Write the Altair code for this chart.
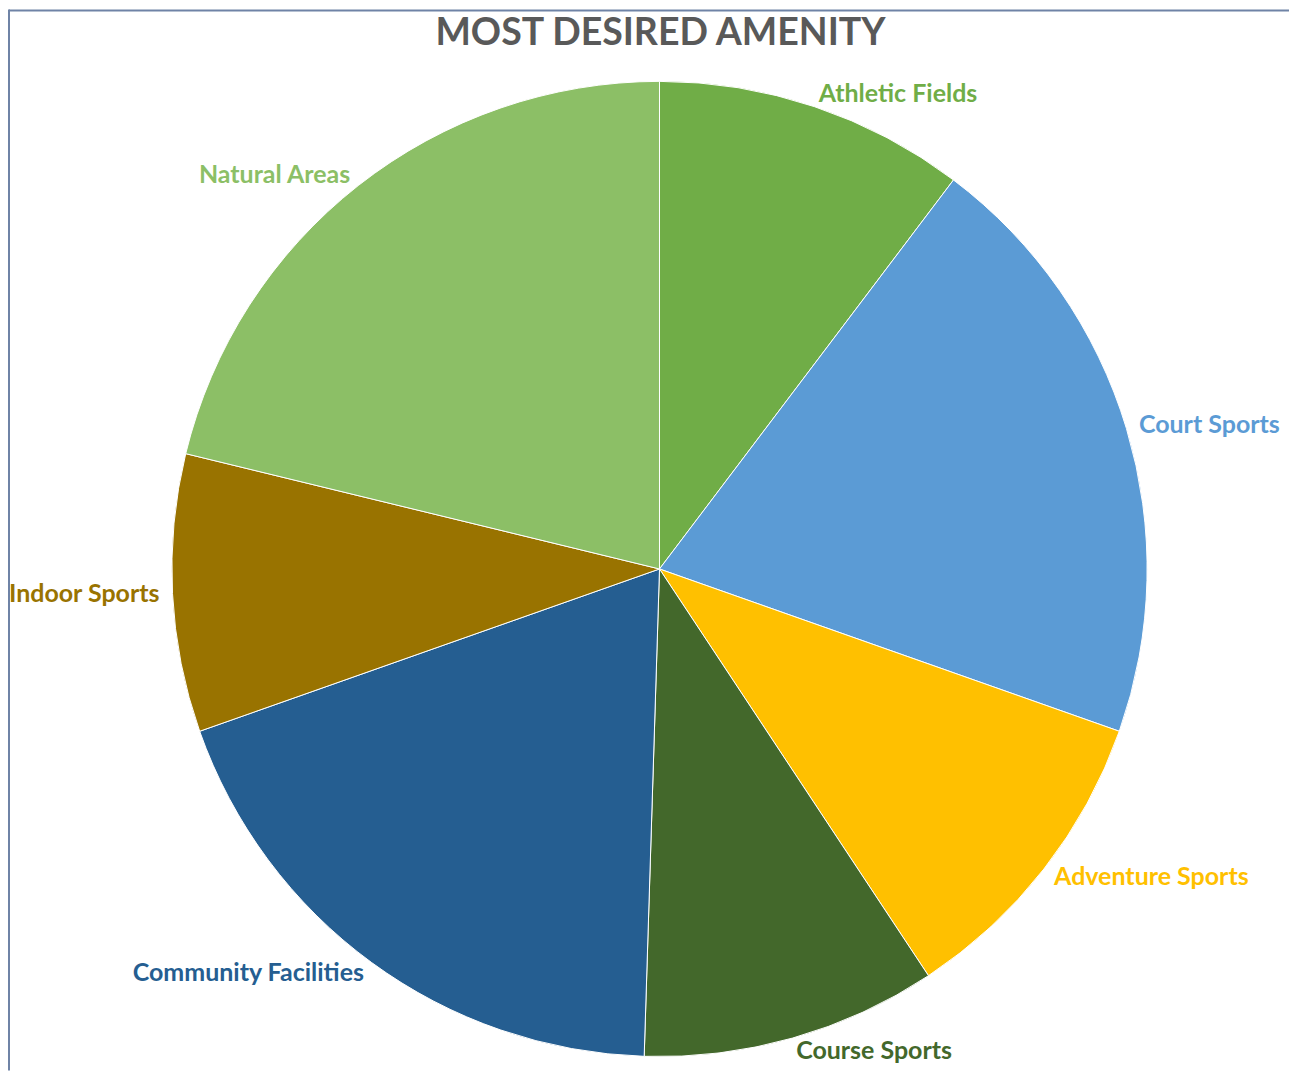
import altair as alt
import pandas as pd

title_text = "MOST DESIRED AMENITY"
categories = ["Athletic Fields", "Court Sports", "Adventure Sports", "Course Sports",
              "Community Facilities", "Indoor Sports", "Natural Areas"]
shares = [10.3, 20.1, 10.3, 9.8, 19.1, 9.2, 21.2]
colors = ["#70AD47", "#5B9BD5", "#FFC000", "#43682B", "#255E91", "#997300", "#8CBF66"]

df = pd.DataFrame({"category": categories, "share": shares, "idx": list(range(len(categories)))})

CX, CY = 652, 560
R = 488

color_scale = alt.Scale(domain=categories, range=colors)

base = alt.Chart(df)

arcs = base.mark_arc(outerRadius=R, stroke="white", strokeWidth=1).encode(
    theta=alt.Theta("share:Q", stack=True),
    order=alt.Order("idx:Q"),
    color=alt.Color("category:N", scale=color_scale, legend=None),
    x=alt.value(CX),
    y=alt.value(CY),
)

labels = base.transform_window(
    cum="sum(share)", sort=[alt.SortField("idx")]
).transform_calculate(
    mid="datum.cum - datum.share / 2"
).mark_text(
    radius=501,
    font="Lato",
    fontSize=25,
    fontWeight="bold",
    baseline="middle",
    align=alt.expr("datum.mid < 50 ? 'left' : 'right'"),
).encode(
    theta=alt.Theta("share:Q", stack=True),
    order=alt.Order("idx:Q"),
    text="category:N",
    color=alt.Color("category:N", scale=color_scale, legend=None),
    x=alt.value(CX),
    y=alt.value(CY),
)

one = pd.DataFrame({"t": [title_text]})

title = alt.Chart(one).mark_text(
    font="Lato", fontSize=37.5, fontWeight="bold", color="#595959",
    align="center", baseline="middle",
).encode(text="t:N", x=alt.value(CX + 1), y=alt.value(25))

border = alt.Chart(one).mark_rule(color="#6F83A6", strokeWidth=2).encode(
    x=alt.value(1), x2=alt.value(1), y=alt.value(0), y2=alt.value(1062)
)
border_top = alt.Chart(one).mark_rule(color="#6F83A6", strokeWidth=2).encode(
    x=alt.value(1), x2=alt.value(1282), y=alt.value(1), y2=alt.value(1)
)

chart = alt.layer(border, border_top, arcs, labels, title).properties(
    width=1282,
    height=1062,
    padding=0,
).configure_view(stroke=None)

chart.save("out.html", embed_options={"renderer": "svg", "actions": False})
